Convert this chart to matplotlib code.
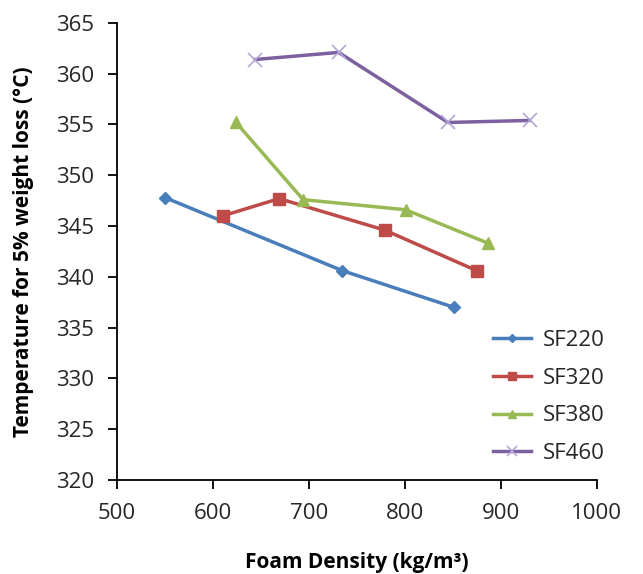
import matplotlib
matplotlib.use('Agg')
import matplotlib.pyplot as plt

plt.rcParams['font.family'] = ['Open Sans', 'DejaVu Sans']

# data
sf220_x = [550, 735, 851]
sf220_y = [347.8, 340.6, 337.0]
sf320_x = [610, 669, 779, 875]
sf320_y = [346.0, 347.7, 344.6, 340.6]
sf380_x = [624, 694, 801, 887]
sf380_y = [355.2, 347.6, 346.6, 343.3]
sf460_x = [644, 731, 845, 930]
sf460_y = [361.4, 362.1, 355.2, 355.4]

fig = plt.figure(figsize=(6.43, 5.74), dpi=100)
ax = fig.add_axes([0.182, 0.164, 0.746, 0.796])

ax.plot(sf220_x, sf220_y, color='#4A7EBB', lw=2.5, marker='D', ms=6, label='SF220')
ax.plot(sf320_x, sf320_y, color='#BE4B48', lw=2.5, marker='s', ms=9, label='SF320')
ax.plot(sf380_x, sf380_y, color='#98B954', lw=2.5, marker='^', ms=9, label='SF380')
ax.plot(sf460_x, sf460_y, color='#7D60A0', lw=2.5, marker='x', ms=10,
        mec='#B4A7D6', mew=1.2, label='SF460')

ax.set_xlim(500, 1000)
ax.set_ylim(320, 365)
ax.set_xticks(range(500, 1001, 100))
ax.set_yticks(range(320, 366, 5))
ax.spines['top'].set_visible(False)
ax.spines['right'].set_visible(False)
for s in ('left', 'bottom'):
    ax.spines[s].set_linewidth(1.3)
ax.tick_params(labelsize=16, width=1.3, length=6.5, direction='out', labelcolor='#262626')
ax.tick_params(axis='x', pad=10)
ax.tick_params(axis='y', pad=10)

ax.set_xlabel('Foam Density (kg/m³)', fontsize=15, fontweight='bold', labelpad=20)
ax.set_ylabel('Temperature for 5% weight loss (°C)', fontsize=15, fontweight='bold', labelpad=16)

leg = ax.legend(loc='center left', bbox_to_anchor=(0.743, 0.181), frameon=False, fontsize=16,
                handlelength=1.7, handletextpad=0.5, labelspacing=0.75, markerscale=0.7)
for t in leg.get_texts():
    t.set_color('#262626')

fig.savefig('out.png', dpi=100)
